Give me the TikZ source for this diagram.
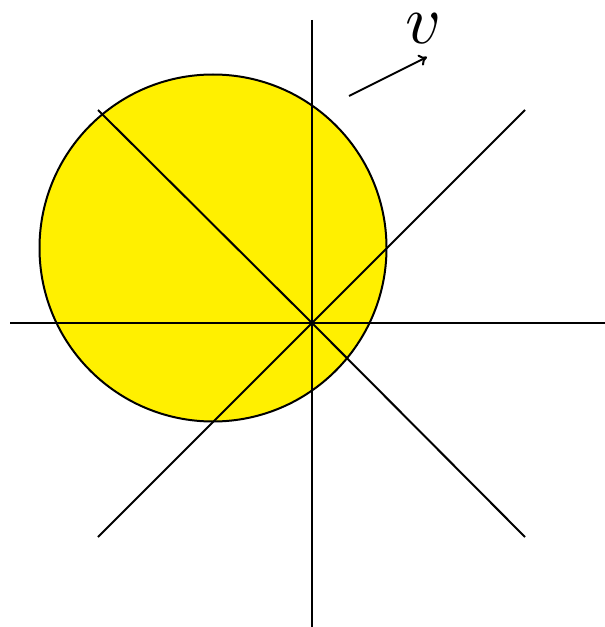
\documentclass[tikz,border=0pt]{standalone}
\usepackage{graphicx}
\usetikzlibrary{arrows.meta}
\definecolor{discyellow}{RGB}{255,240,0}
\begin{document}
\begin{tikzpicture}[
                      x=0.75pt, y=-0.75pt,
                      axisline/.style = {line width=1.5pt, line cap=butt},
                      disc/.style = {draw, line width=1.5pt, fill=discyellow}
                  ]
                  \useasboundingbox (0,0) rectangle (605,627);
                  \coordinate (O) at (312,323);
                  \filldraw[disc] (213,248) circle [radius=173.5];
                  \draw[axisline] (10,323) -- (O) -- (605,323);
                  \draw[axisline] (312,20) -- (O) -- (312,627);
                  \draw[axisline] (98,110) -- (O) -- (525,537);
                  \draw[axisline] (98,537) -- (O) -- (525,110);
                  \coordinate (vtail) at (349,96);
                  \coordinate (vhead) at (427,57);
                  \draw[line width=1.5pt, -{To[length=6pt,width=9pt]}] (vtail) -- (vhead);
                  \node[inner sep=0pt] (vlabel) at (424,29) {\scalebox{5.2}{$v$}};
              \end{tikzpicture}
\end{document}
